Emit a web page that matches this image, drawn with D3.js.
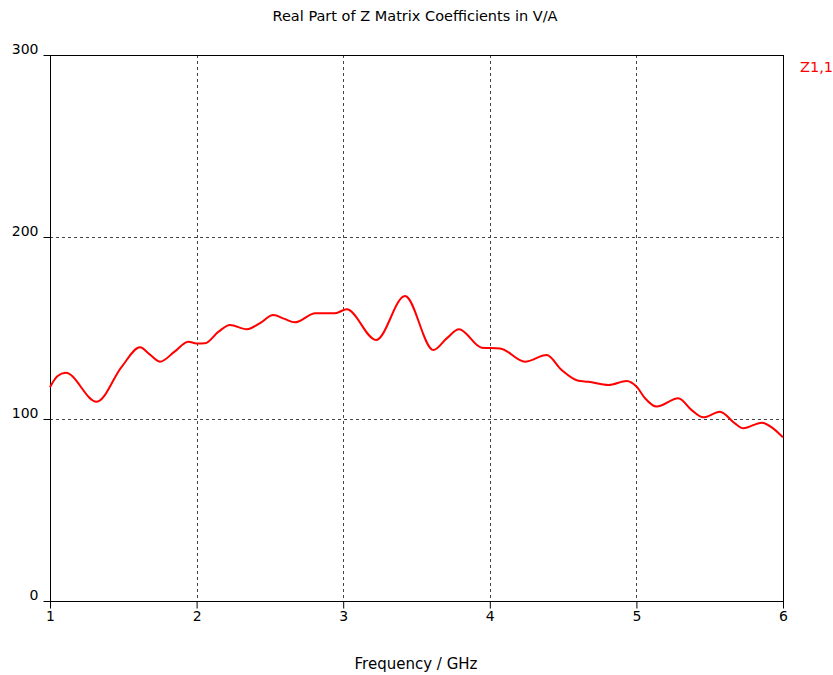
<!DOCTYPE html>
<html><head><meta charset="utf-8">
<script src="https://cdn.jsdelivr.net/npm/d3@7"></script>
<style>body{margin:0;background:#fff}svg{display:block}text{font-family:"DejaVu Sans",Verdana,sans-serif}</style>
</head><body><svg id="c" width="833" height="675"></svg>
<script>
const title = "Real Part of Z Matrix Coefficients in V/A";
const xLabel = "Frequency / GHz";
const seriesName = "Z1,1";
const xTicks = [1, 2, 3, 4, 5, 6];
const yTicks = [0, 100, 200, 300];
const freq = [1.0, 1.05, 1.107, 1.318, 1.489, 1.614, 1.68, 1.75, 1.85, 1.943, 2.0, 2.057, 2.15, 2.228, 2.342, 2.43, 2.523, 2.60, 2.67, 2.81, 2.944, 3.024, 3.224, 3.422, 3.615, 3.706, 3.79, 3.945, 4.07, 4.24, 4.388, 4.49, 4.604, 4.672, 4.81, 4.934, 5.002, 5.059, 5.138, 5.286, 5.377, 5.456, 5.570, 5.672, 5.729, 5.855, 5.93, 6.0];
const z11 = [117.5, 123.5, 125.4, 109.5, 128.7, 139.4, 135.5, 131.5, 137, 142.5, 141.5, 141.6, 148, 151.6, 149.3, 152.5, 157.1, 155, 153.1, 158.1, 158.1, 160.3, 143.4, 167.6, 137.9, 144.3, 149.3, 139.2, 138.8, 131.5, 135.2, 126.9, 121.0, 120.5, 118.7, 120.9, 117.7, 111.4, 106.8, 111.4, 104.9, 100.9, 104.0, 97.6, 94.9, 98.0, 95, 89.9];

const svg = d3.select("#c");
const L = 50, R = 783, T = 55, B = 601;
const x = d3.scaleLinear().domain([1, 6]).range([L, R]);
const y = d3.scaleLinear().domain([0, 300]).range([B, T]);

// grid
const grid = svg.append("g").attr("stroke", "#444").attr("stroke-width", 1).attr("stroke-dasharray", "3,3");
xTicks.filter(d => d > 1 && d < 6).forEach(d => grid.append("line").attr("x1", Math.round(x(d)) + 0.5).attr("x2", Math.round(x(d)) + 0.5).attr("y1", T).attr("y2", B));
yTicks.filter(d => d > 0 && d < 300).forEach(d => grid.append("line").attr("y1", Math.round(y(d)) + 0.5).attr("y2", Math.round(y(d)) + 0.5).attr("x1", L).attr("x2", R));

// axes
const yAxis = d3.axisLeft(y).tickValues(yTicks).tickSize(7).tickFormat(d3.format("d"));
const gy = svg.append("g").attr("transform", `translate(${L + 0.5},0)`).call(yAxis);
gy.select(".domain").remove();
gy.selectAll("text").attr("font-size", 14).attr("fill", "#000").attr("x", -12).attr("dy", "-0.1em");
gy.selectAll("line").attr("stroke", "#000");

const xAxis = d3.axisBottom(x).tickValues(xTicks).tickSize(7).tickFormat(d3.format("d"));
const gx = svg.append("g").attr("transform", `translate(0,${B + 0.5})`).call(xAxis);
gx.select(".domain").remove();
gx.selectAll("text").attr("font-size", 14).attr("fill", "#000").attr("y", 10).attr("dy", "0.71em");
gx.selectAll("line").attr("stroke", "#000");

// frame
svg.append("rect").attr("x", L + 0.5).attr("y", T + 0.5).attr("width", R - L).attr("height", B - T)
  .attr("fill", "none").attr("stroke", "#000").attr("stroke-width", 1);

// line
const line = d3.line().x((d, i) => x(freq[i])).y(d => y(d)).curve(d3.curveMonotoneX);
svg.append("path").datum(z11).attr("d", line).attr("fill", "none").attr("stroke", "#ff0000").attr("stroke-width", 2);

// text
svg.append("text").attr("x", 415).attr("y", 21).attr("text-anchor", "middle").attr("font-size", 14.5).text(title);
svg.append("text").attr("x", 416).attr("y", 669).attr("text-anchor", "middle").attr("font-size", 15).text(xLabel);
svg.append("text").attr("x", 800).attr("y", 72).attr("font-size", 14.5).attr("fill", "#ff0000").text(seriesName);
</script></body></html>
